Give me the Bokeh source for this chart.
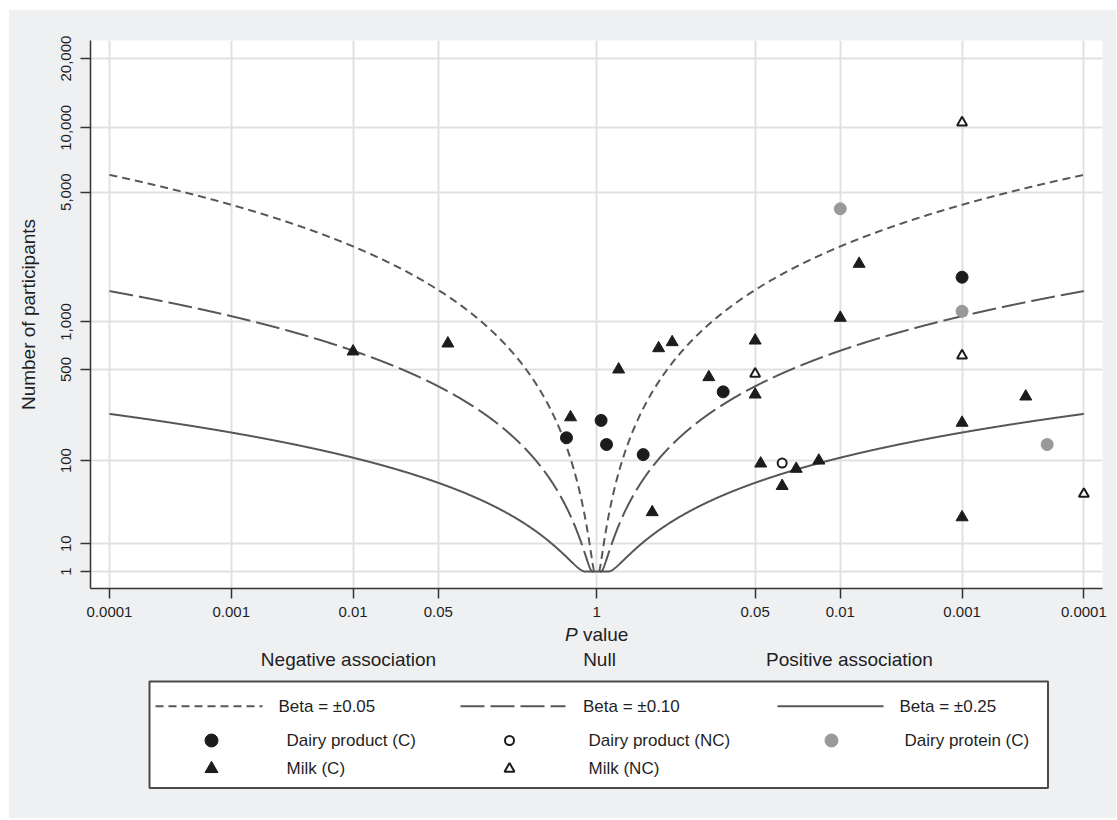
import numpy as np
from statistics import NormalDist
from bokeh.plotting import figure
from bokeh.models import Range1d, FixedTicker
from bokeh.layouts import column
from bokeh.embed import file_html
from bokeh.resources import INLINE
from bokeh.core.properties import value

# ---------------- data ----------------
# direction: -1 = negative association, +1 = positive association
milk_c_p = [0.01, 0.06, 0.61, 0.66, 0.35, 0.31, 0.24, 0.12, 0.05, 0.05,
            0.045, 0.03, 0.023, 0.015, 0.01, 0.007, 0.0003, 0.001, 0.001]
milk_c_dir = [-1, -1, -1, 1, 1, 1, 1, 1, 1, 1, 1, 1, 1, 1, 1, 1, 1, 1, 1]
milk_c_n = [656, 737, 228, 500, 29, 688, 751, 444, 769, 336,
            94, 57, 84, 100, 1059, 2143, 325, 207, 25]

milk_nc_p = [0.05, 0.001, 0.001, 0.0001]
milk_nc_dir = [1, 1, 1, 1]
milk_nc_n = [468, 618, 10570, 47]

dairy_c_p = [0.565, 0.92, 0.83, 0.415, 0.0915, 0.001]
dairy_c_dir = [-1, 1, 1, 1, 1, 1]
dairy_c_n = [157, 216, 138, 113, 351, 1811]

dairy_nc_p = [0.03]
dairy_nc_dir = [1]
dairy_nc_n = [95]

protein_c_p = [0.01, 0.001, 0.0002]
protein_c_dir = [1, 1, 1]
protein_c_n = [4137, 1158, 138]

betas = [0.05, 0.10, 0.25]
beta_labels = ["Beta = \u00b10.05", "Beta = \u00b10.10", "Beta = \u00b10.25"]

x_tick_p = [0.0001, 0.001, 0.01, 0.05, 1, 0.05, 0.01, 0.001, 0.0001]
x_tick_dir = [-1, -1, -1, -1, 1, 1, 1, 1, 1]
x_tick_labels = ["0.0001", "0.001", "0.01", "0.05", "1", "0.05", "0.01", "0.001", "0.0001"]

y_tick_n = [1, 10, 100, 500, 1000, 5000, 10000, 20000]
y_tick_labels = ["1", "10", "100", "500", "1,000", "5,000", "10,000", "20,000"]

# ---------------- scales ----------------
def xpos(p, d):
    return (np.sign(np.asarray(d, float)) * -np.log10(np.asarray(p, float))) + 0.0

def ypos(n):
    return np.log10(np.asarray(n, float)) ** 2

FONT = "Liberation Sans"
BG = "#eff0f2"
TXT = "#1f1f1f"
LINE = "#575757"
DASHES = ["8 5", "24 6", "solid"]

# page origin of the figures is (9, 10); frame spans x 90..1102, y 40..588
W = 1107
LB, RB = 81, 14
p = figure(width=W, height=615, output_backend="svg", toolbar_location=None,
           x_range=Range1d(-4.156, 4.153), y_range=Range1d(-0.613, 19.15),
           min_border_left=LB, min_border_right=RB, min_border_top=30,
           min_border_bottom=37, background_fill_color="white",
           border_fill_color=BG, outline_line_color=None)

# ticks
xt = [round(float(v), 6) for v in xpos(x_tick_p, x_tick_dir)]
yt = [round(float(v), 6) for v in ypos(y_tick_n)]
p.xaxis.ticker = FixedTicker(ticks=xt)
p.yaxis.ticker = FixedTicker(ticks=yt)
p.xaxis.major_label_overrides = {t: l for t, l in zip(xt, x_tick_labels)}
p.yaxis.major_label_overrides = {t: l for t, l in zip(yt, y_tick_labels)}

for ax in (p.xaxis, p.yaxis):
    ax.major_tick_out = 10
    ax.major_tick_in = 0
    ax.minor_tick_out = 0
    ax.minor_tick_in = 0
    ax.axis_line_color = "#333333"
    ax.axis_line_width = 1.5
    ax.major_tick_line_color = "#333333"
    ax.major_tick_line_width = 1.5
    ax.major_label_text_font = FONT
    ax.major_label_text_font_size = "15px"
    ax.major_label_text_color = TXT

p.xaxis.major_label_standoff = 8
p.yaxis.major_label_standoff = 9
p.yaxis.major_label_orientation = "vertical"
p.yaxis.axis_label = "Number of participants"
p.yaxis.axis_label_text_font = FONT
p.yaxis.axis_label_text_font_size = "19px"
p.yaxis.axis_label_text_font_style = "normal"
p.yaxis.axis_label_text_color = TXT
p.yaxis.axis_label_standoff = 20

p.grid.grid_line_color = "#e0e1e3"
p.grid.grid_line_width = 2

# contours
xg = np.linspace(0, 4, 1201)
nd = NormalDist()
for b, dash in zip(betas, DASHES):
    z = np.array([nd.inv_cdf(1 - (10 ** -v) / 2) for v in xg])
    n = np.maximum((z / b) ** 2, 1.0)
    yc = ypos(n)
    xs = np.concatenate([-xg[::-1], xg])
    ys = np.concatenate([yc[::-1], yc])
    p.line(xs, ys, line_color=LINE, line_width=2, line_dash=dash)

BLACK = "#1c1c1c"
GRAY = "#999999"
p.scatter(xpos(dairy_c_p, dairy_c_dir), ypos(dairy_c_n), marker="circle", size=12,
          fill_color=BLACK, line_color=BLACK)
p.scatter(xpos(protein_c_p, protein_c_dir), ypos(protein_c_n), marker="circle", size=12,
          fill_color=GRAY, line_color=GRAY)
p.scatter(xpos(dairy_nc_p, dairy_nc_dir), ypos(dairy_nc_n), marker="circle", size=9,
          fill_color="white", line_color=BLACK, line_width=2)
p.scatter(xpos(milk_c_p, milk_c_dir), ypos(milk_c_n), marker="triangle", size=12,
          fill_color=BLACK, line_color=BLACK)
p.scatter(xpos(milk_nc_p, milk_nc_dir), ypos(milk_nc_n), marker="triangle", size=10,
          fill_color="white", line_color=BLACK, line_width=2)

# ---------------- lower panel: axis title, association row, legend (page pixel coords) ----------------
q = figure(width=W, height=193, output_backend="svg", toolbar_location=None,
           x_range=Range1d(90, 9 + W - RB), y_range=Range1d(818, 625),
           x_axis_location=None, y_axis_location=None,
           min_border_left=LB, min_border_right=RB, min_border_top=0, min_border_bottom=0,
           background_fill_color=BG, border_fill_color=BG,
           outline_line_color=None)
q.grid.visible = False

q.text(x=[564.5], y=[634], text=["P"], text_font=value(FONT), text_font_size="19px",
       text_font_style="italic", text_color=TXT, text_align="left", text_baseline="middle")
q.text(x=[582.5], y=[634], text=["value"], text_font=value(FONT), text_font_size="19px",
       text_color=TXT, text_align="left", text_baseline="middle")
q.text(x=[348, 599, 849], y=[659, 659, 659],
       text=["Negative association", "Null", "Positive association"],
       text_font=value(FONT), text_font_size="19px", text_color=TXT,
       text_align="center", text_baseline="middle")

q.quad(left=[149], right=[1047.5], top=[681], bottom=[787.5], fill_color="white",
       line_color="#4a4a4a", line_width=2)

row1, row2, row3 = 705.7, 740, 768.3
line_x0 = [155, 460, 777]
line_x1 = [262, 565, 883]
text_x1 = [278, 582.5, 899]
for x0, x1, tx, lab, dash in zip(line_x0, line_x1, text_x1, beta_labels, DASHES):
    q.line([x0, x1], [row1, row1], line_color=LINE, line_width=2, line_dash=dash)
    q.text(x=[tx], y=[row1], text=[lab], text_font=value(FONT), text_font_size="17px",
           text_color=TXT, text_align="left", text_baseline="middle")

q.scatter([211], [row2], marker="circle", size=13, fill_color=BLACK, line_color=BLACK)
q.scatter([509], [row2], marker="circle", size=9, fill_color="white", line_color=BLACK, line_width=2)
q.scatter([831], [row2], marker="circle", size=13, fill_color=GRAY, line_color=GRAY)
q.scatter([211], [row3], marker="triangle", size=13, fill_color=BLACK, line_color=BLACK)
q.scatter([509], [row3], marker="triangle", size=10, fill_color="white", line_color=BLACK, line_width=2)
q.text(x=[286, 588, 904, 286, 588], y=[row2, row2, row2, row3, row3],
       text=["Dairy product (C)", "Dairy product (NC)", "Dairy protein (C)", "Milk (C)", "Milk (NC)"],
       text_font=value(FONT), text_font_size="17px", text_color=TXT,
       text_align="left", text_baseline="middle")

layout = column(p, q, spacing=0, margin=(10, 0, 0, 9), styles={"background-color": BG})
open("out.html", "w").write(file_html(layout, INLINE, title="Albatross plot"))
